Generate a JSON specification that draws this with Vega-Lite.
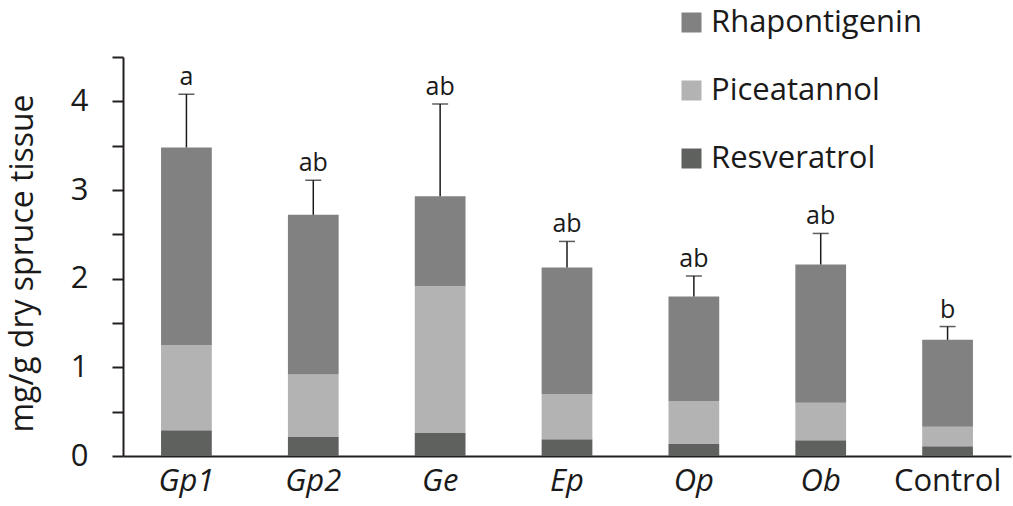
{
  "$schema": "https://vega.github.io/schema/vega-lite/v6.json",
  "width": 888,
  "height": 399,
  "autosize": "none",
  "padding": {"left": 123, "top": 57, "right": 2, "bottom": 50},
  "background": "white",
  "config": {
    "font": "Open Sans",
    "view": {"stroke": null},
    "axis": {
      "grid": false,
      "domainColor": "#231f20",
      "domainWidth": 2,
      "tickColor": "#231f20",
      "tickWidth": 2,
      "labelColor": "#1a1a1a",
      "titleColor": "#1a1a1a",
      "labelFont": "Open Sans",
      "titleFont": "Open Sans"
    }
  },
  "datasets": {
    "bars": [
      {"group": "Gp1", "compound": "Resveratrol", "value": 0.29},
      {"group": "Gp1", "compound": "Piceatannol", "value": 0.96},
      {"group": "Gp1", "compound": "Rhapontigenin", "value": 2.23},
      {"group": "Gp2", "compound": "Resveratrol", "value": 0.215},
      {"group": "Gp2", "compound": "Piceatannol", "value": 0.705},
      {"group": "Gp2", "compound": "Rhapontigenin", "value": 1.8},
      {"group": "Ge", "compound": "Resveratrol", "value": 0.26},
      {"group": "Ge", "compound": "Piceatannol", "value": 1.655},
      {"group": "Ge", "compound": "Rhapontigenin", "value": 1.015},
      {"group": "Ep", "compound": "Resveratrol", "value": 0.19},
      {"group": "Ep", "compound": "Piceatannol", "value": 0.51},
      {"group": "Ep", "compound": "Rhapontigenin", "value": 1.426},
      {"group": "Op", "compound": "Resveratrol", "value": 0.135},
      {"group": "Op", "compound": "Piceatannol", "value": 0.485},
      {"group": "Op", "compound": "Rhapontigenin", "value": 1.18},
      {"group": "Ob", "compound": "Resveratrol", "value": 0.177},
      {"group": "Ob", "compound": "Piceatannol", "value": 0.423},
      {"group": "Ob", "compound": "Rhapontigenin", "value": 1.56},
      {"group": "Control", "compound": "Resveratrol", "value": 0.11},
      {"group": "Control", "compound": "Piceatannol", "value": 0.22},
      {"group": "Control", "compound": "Rhapontigenin", "value": 0.98}
    ],
    "err": [
      {"group": "Gp1", "total": 3.48, "upper": 4.08, "letter": "a"},
      {"group": "Gp2", "total": 2.72, "upper": 3.11, "letter": "ab"},
      {"group": "Ge", "total": 2.93, "upper": 3.97, "letter": "ab"},
      {"group": "Ep", "total": 2.126, "upper": 2.42, "letter": "ab"},
      {"group": "Op", "total": 1.8, "upper": 2.03, "letter": "ab"},
      {"group": "Ob", "total": 2.16, "upper": 2.51, "letter": "ab"},
      {"group": "Control", "total": 1.31, "upper": 1.46, "letter": "b"}
    ]
  },
  "layer": [
    {
      "data": {"name": "bars"},
      "transform": [
        {"calculate": "indexof(['Resveratrol','Piceatannol','Rhapontigenin'], datum.compound)", "as": "stackRank"}
      ],
      "mark": {"type": "bar"},
      "encoding": {
        "x": {
          "field": "group",
          "type": "nominal",
          "sort": ["Gp1", "Gp2", "Ge", "Ep", "Op", "Ob", "Control"],
          "scale": {"paddingInner": 0.6, "paddingOuter": 0.3},
          "axis": {
            "title": null,
            "ticks": false,
            "labelAngle": 0,
            "labelFontSize": 31,
            "labelPadding": 10,
            "labelFontStyle": {"condition": {"test": "datum.value === 'Control'", "value": "normal"}, "value": "italic"}
          }
        },
        "y": {
          "field": "value",
          "type": "quantitative",
          "stack": "zero",
          "scale": {"domain": [0, 4.5], "nice": false},
          "axis": {
            "title": "mg/g dry spruce tissue",
            "titleFontSize": 32,
            "titleFontWeight": "normal",
            "titlePadding": 31,
            "titleY": 206,
            "values": [0, 0.5, 1, 1.5, 2, 2.5, 3, 3.5, 4, 4.5],
            "labelExpr": "datum.value % 1 === 0 ? format(datum.value, 'd') : ''",
            "labelFontSize": 31,
            "labelPadding": 24,
            "tickSize": 11
          }
        },
        "color": {
          "field": "compound",
          "type": "nominal",
          "scale": {
            "domain": ["Rhapontigenin", "Piceatannol", "Resveratrol"],
            "range": ["#818181", "#b3b3b3", "#5f615f"]
          },
          "legend": {
            "orient": "none",
            "legendX": 553,
            "legendY": -50,
            "title": null,
            "padding": 0,
            "symbolType": "square",
            "symbolSize": 400,
            "symbolStrokeWidth": 0,
            "labelFontSize": 31,
            "labelLimit": 400,
            "labelColor": "#1a1a1a",
            "labelOffset": 4,
            "rowPadding": 36
          }
        },
        "order": {"field": "stackRank", "type": "quantitative"}
      }
    },
    {
      "data": {"name": "err"},
      "mark": {"type": "rule", "color": "#1a1a1a", "strokeWidth": 1.5},
      "encoding": {
        "x": {"field": "group", "type": "nominal", "sort": ["Gp1", "Gp2", "Ge", "Ep", "Op", "Ob", "Control"]},
        "y": {"field": "total", "type": "quantitative"},
        "y2": {"field": "upper"}
      }
    },
    {
      "data": {"name": "err"},
      "mark": {"type": "tick", "color": "#1a1a1a", "size": 16, "thickness": 1.5},
      "encoding": {
        "x": {"field": "group", "type": "nominal", "sort": ["Gp1", "Gp2", "Ge", "Ep", "Op", "Ob", "Control"]},
        "y": {"field": "upper", "type": "quantitative"}
      }
    },
    {
      "data": {"name": "err"},
      "mark": {"type": "text", "color": "#1a1a1a", "fontSize": 25, "baseline": "alphabetic", "dy": -9, "font": "Open Sans"},
      "encoding": {
        "x": {"field": "group", "type": "nominal", "sort": ["Gp1", "Gp2", "Ge", "Ep", "Op", "Ob", "Control"]},
        "y": {"field": "upper", "type": "quantitative"},
        "text": {"field": "letter"}
      }
    }
  ]
}
